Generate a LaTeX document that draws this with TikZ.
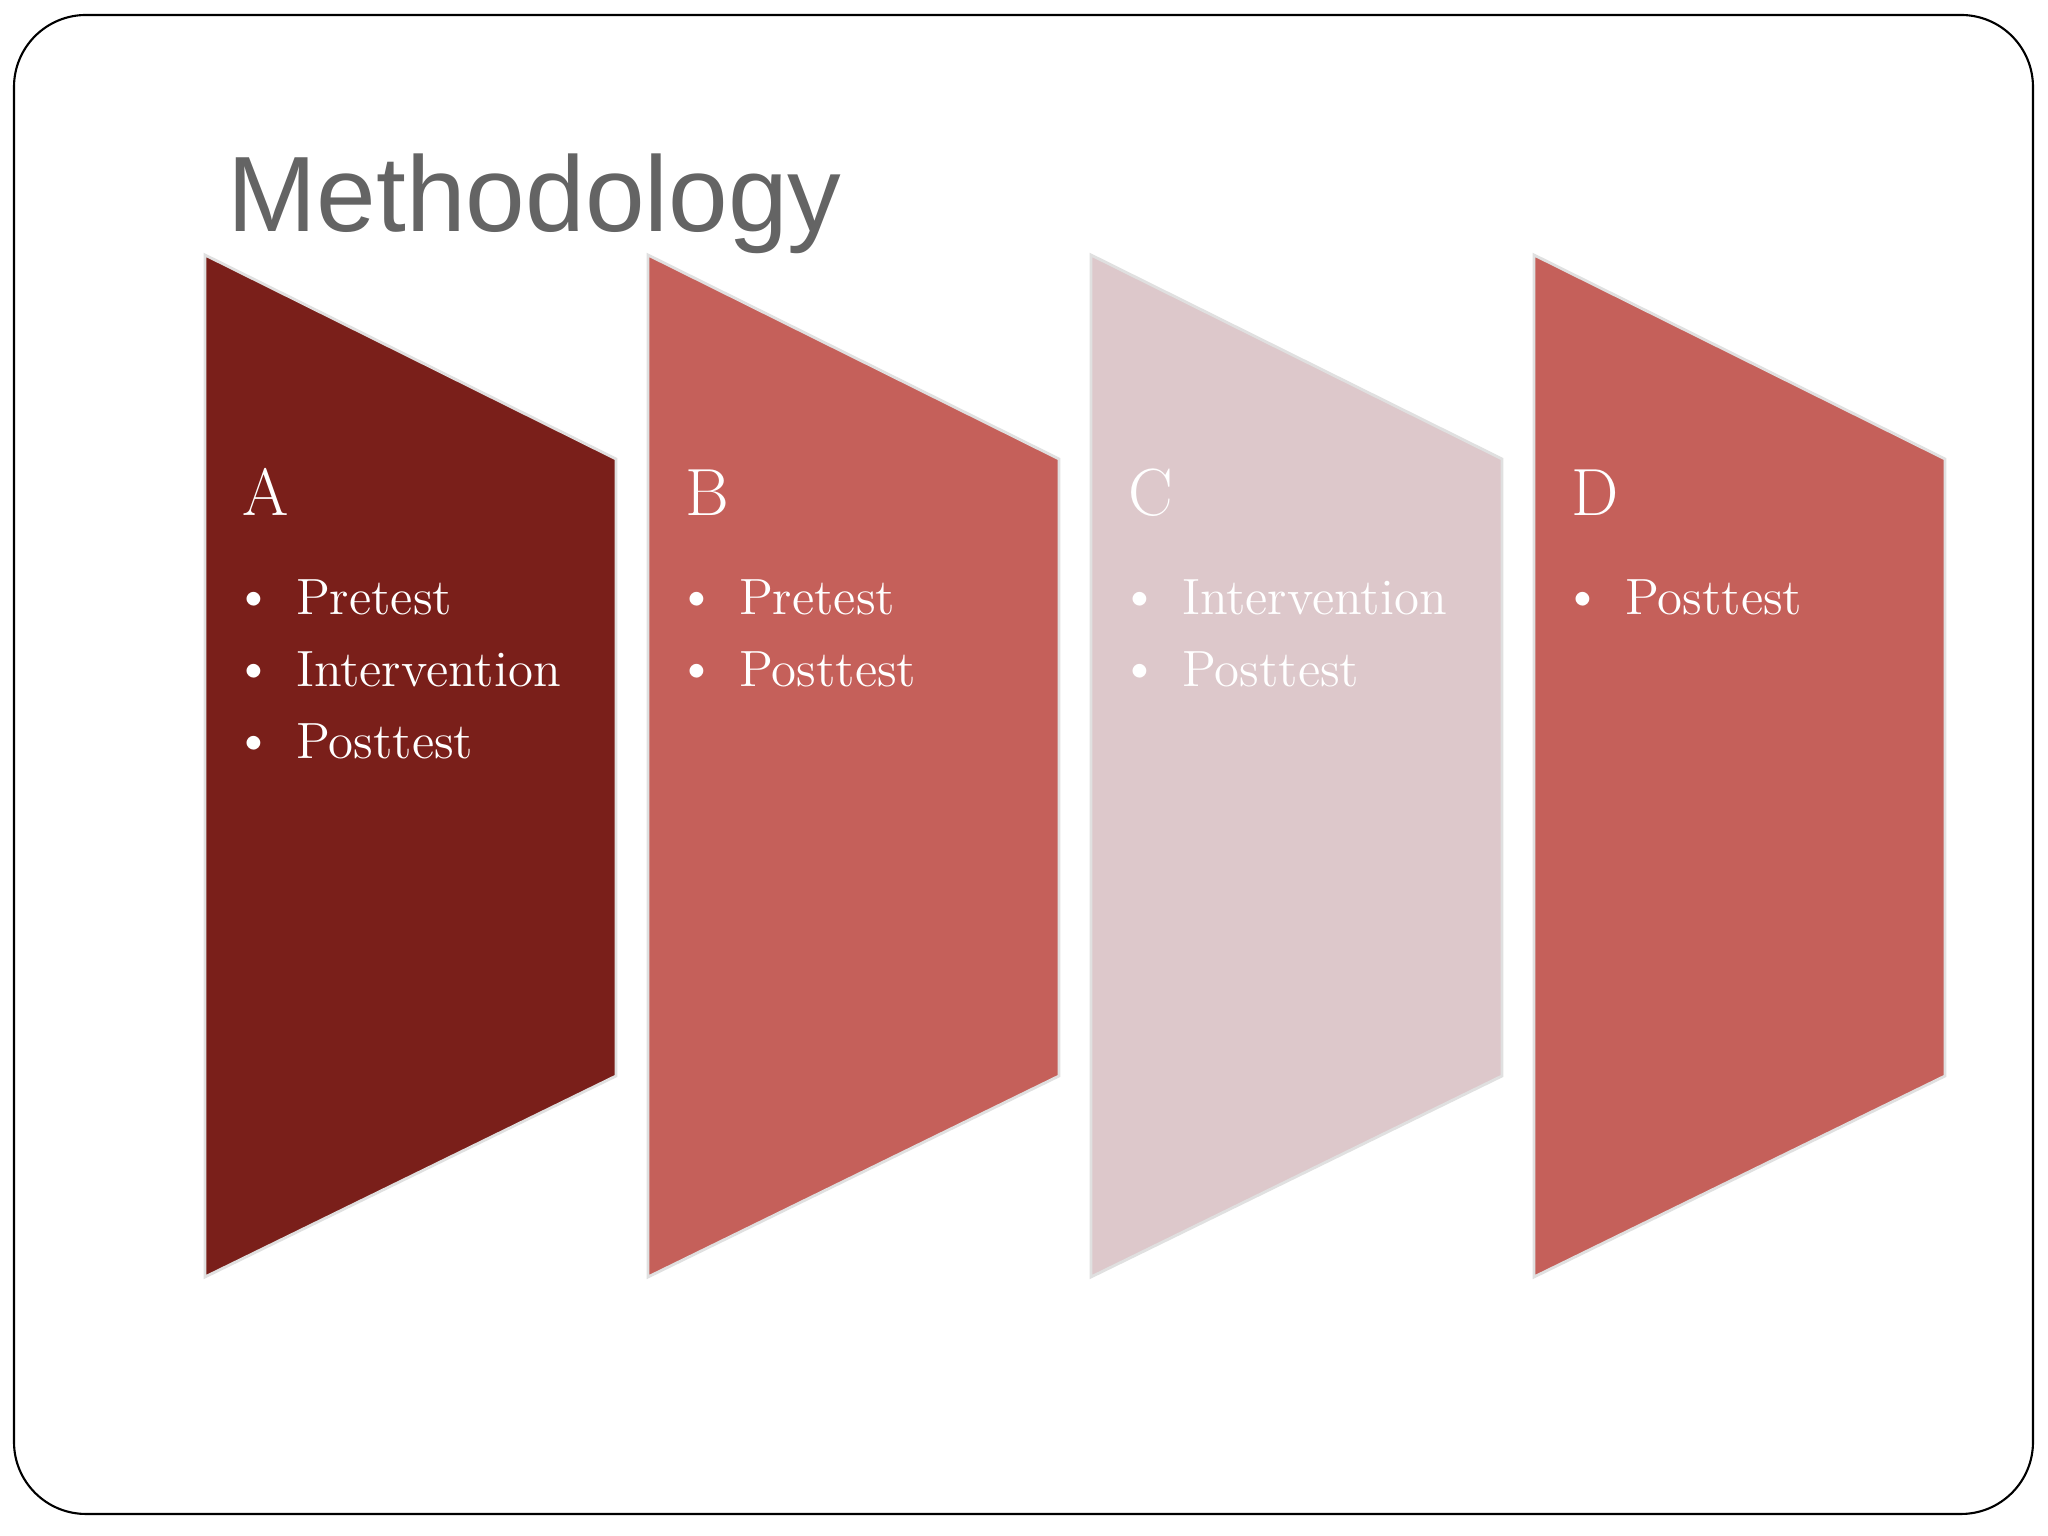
\documentclass[tikz,border=0pt]{standalone}
\usepackage{fontspec}
\newfontfamily\titlefont{Liberation Sans}
\definecolor{darkred}{HTML}{7A1F1A}
\definecolor{rosered}{HTML}{C5605A}
\definecolor{palerose}{HTML}{DDC8CB}
\definecolor{titlegray}{HTML}{646464}
\tikzset{
  panel/.style={draw=white!88!black, line width=0.8pt},
  head/.style={anchor=base west, inner sep=0pt, white, font=\fontsize{19}{22}\selectfont},
  item/.style={anchor=base west, inner sep=0pt, white, font=\fontsize{14.5}{17}\selectfont},
}
\newcommand{\bul}{\raisebox{1pt}{\textbullet}\hspace{6.4pt}}

\begin{document}
\begin{tikzpicture}
\useasboundingbox[fill=white] (0,0) rectangle (20.48,15.36);
\draw[line width=0.6pt, rounded corners=0.72cm] (0.14,0.22) rectangle (20.33,15.21);
%
\node[anchor=base west, inner sep=0pt, titlegray, font=\titlefont\fontsize{30.5}{34}\selectfont] (title) at (2.27,13.04) {Methodology};
%
\fill[darkred, panel] (2.05,12.81) -- (6.16,10.77) -- (6.16,4.60) -- (2.05,2.59) -- cycle;
\node[head] (hA) at (2.42,10.20) {A};
\node[item] (a1) at (2.34,9.21) {\bul Pretest};
\node[item] (a2) at (2.34,8.49) {\bul Intervention};
\node[item] (a3) at (2.34,7.77) {\bul Posttest};
%
\fill[rosered, panel] (6.48,12.81) -- (10.59,10.77) -- (10.59,4.60) -- (6.48,2.59) -- cycle;
\node[head] (hB) at (6.85,10.20) {B};
\node[item] (b1) at (6.77,9.21) {\bul Pretest};
\node[item] (b2) at (6.77,8.49) {\bul Posttest};
%
\fill[palerose, panel] (10.91,12.81) -- (15.02,10.77) -- (15.02,4.60) -- (10.91,2.59) -- cycle;
\node[head] (hC) at (11.28,10.20) {C};
\node[item] (c1) at (11.20,9.21) {\bul Intervention};
\node[item] (c2) at (11.20,8.49) {\bul Posttest};
%
\fill[rosered, panel] (15.34,12.81) -- (19.45,10.77) -- (19.45,4.60) -- (15.34,2.59) -- cycle;
\node[head] (hD) at (15.71,10.20) {D};
\node[item] (d1) at (15.63,9.21) {\bul Posttest};
\end{tikzpicture}
\end{document}
